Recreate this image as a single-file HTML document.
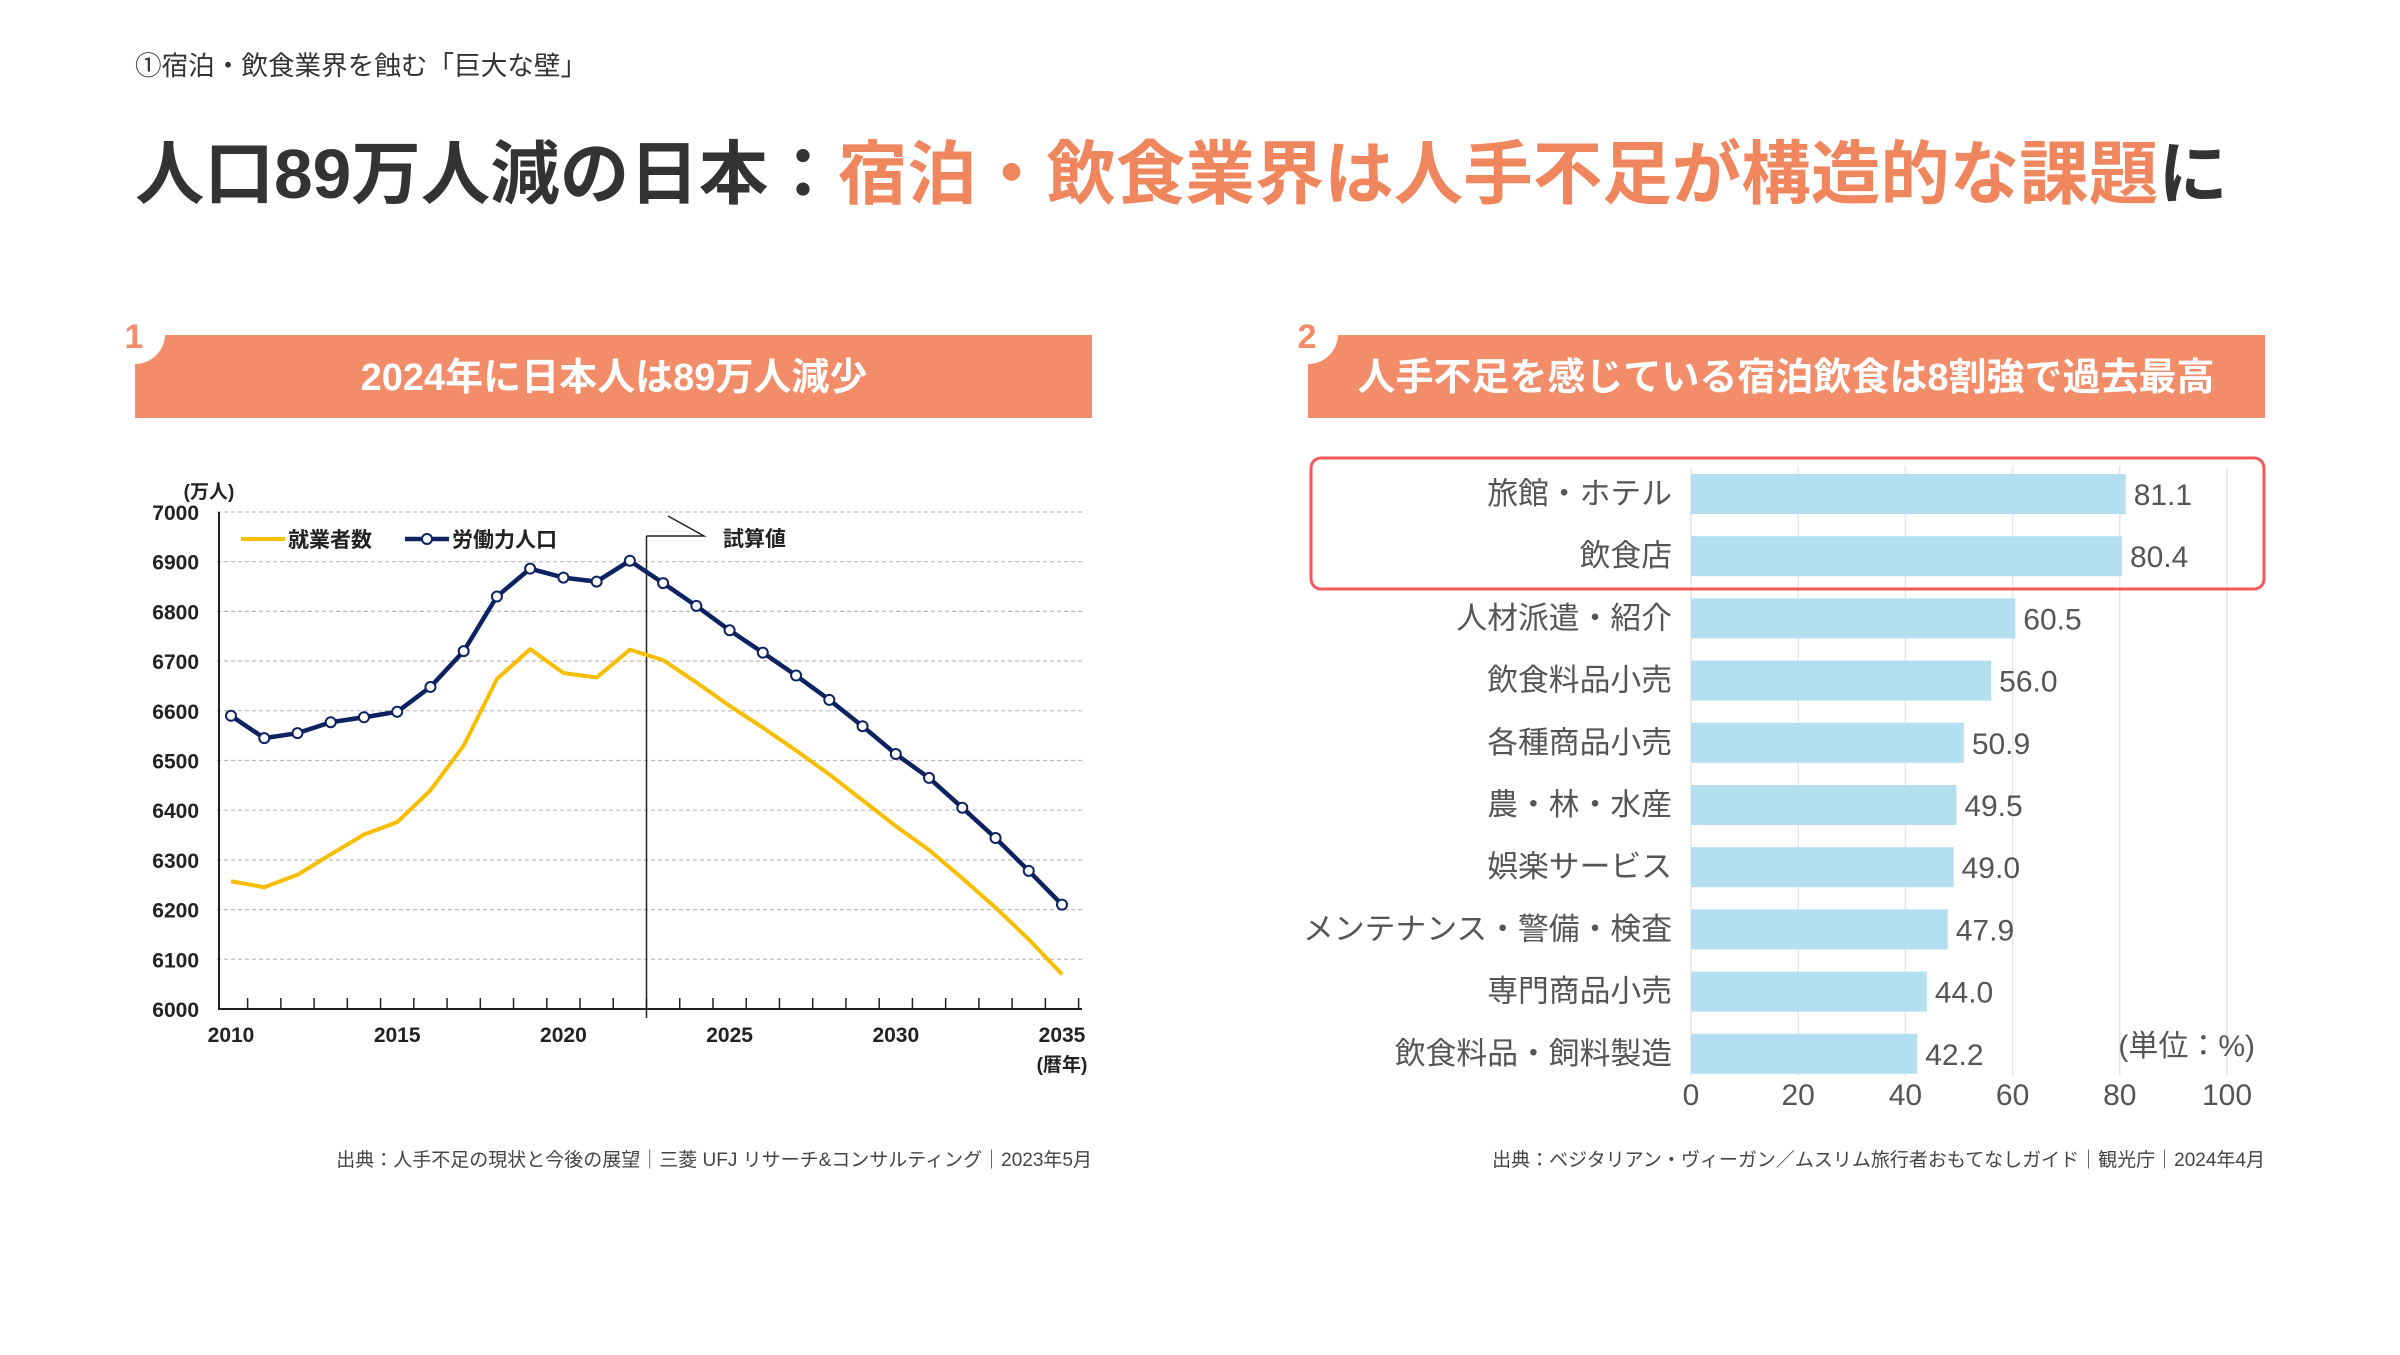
<!DOCTYPE html>
<html><head><meta charset="utf-8">
<style>
html,body{margin:0;padding:0;background:#fff;}
body{width:2400px;height:1350px;overflow:hidden;font-family:"Liberation Sans","Noto Sans CJK JP",sans-serif;}
svg text{font-family:"Liberation Sans","Noto Sans CJK JP",sans-serif;}
</style></head>
<body>
<svg id="page" width="2400" height="1350" viewBox="0 0 2400 1350">
  <text x="135" y="75" font-size="26.6" fill="#333">①宿泊・飲食業界を蝕む「巨大な壁」</text>
  <text x="135" y="198" font-size="69.5" font-weight="bold" fill="#333">人口89万人減の日本：<tspan fill="#f0865e">宿泊・飲食業界は人手不足が構造的な課題</tspan>に</text>

  <g>
    <rect x="135" y="335" width="957" height="83" fill="#f28c69"/>
    <circle cx="135" cy="334" r="30" fill="#fff"/>
    <text x="134" y="348" font-size="34" font-weight="bold" fill="#f28c69" text-anchor="middle">1</text>
    <text x="614" y="390" font-size="38" font-weight="bold" fill="#fff" text-anchor="middle">2024年に日本人は89万人減少</text>
  </g>
  <g>
    <rect x="1308" y="335" width="957" height="83" fill="#f28c69"/>
    <circle cx="1308" cy="334" r="30" fill="#fff"/>
    <text x="1307" y="348" font-size="34" font-weight="bold" fill="#f28c69" text-anchor="middle">2</text>
    <text x="1786" y="390" font-size="38" font-weight="bold" fill="#fff" text-anchor="middle">人手不足を感じている宿泊飲食は8割強で過去最高</text>
  </g>

  <g id="lineChart"></g>
  <g id="barChart"></g>

  <text x="1092" y="1166" font-size="19" fill="#444" text-anchor="end">出典：人手不足の現状と今後の展望｜三菱 UFJ リサーチ&amp;コンサルティング｜2023年5月</text>
  <text x="2265" y="1166" font-size="19" fill="#444" text-anchor="end">出典：ベジタリアン・ヴィーガン／ムスリム旅行者おもてなしガイド｜観光庁｜2024年4月</text>
</svg>
<script>
const years = [2010,2011,2012,2013,2014,2015,2016,2017,2018,2019,2020,2021,2022,2023,2024,2025,2026,2027,2028,2029,2030,2031,2032,2033,2034,2035];
const laborForce = [6590,6545,6555,6577,6587,6598,6648,6720,6830,6886,6868,6860,6902,6857,6811,6762,6717,6671,6622,6569,6513,6465,6405,6344,6278,6210];
const employed = [6257,6245,6270,6311,6351,6376,6440,6530,6664,6724,6676,6667,6723,6702,6657,6610,6566,6520,6472,6420,6368,6320,6263,6204,6140,6070];
const yTicks = [6000,6100,6200,6300,6400,6500,6600,6700,6800,6900,7000];
const xTickLabels = [2010,2015,2020,2025,2030,2035];

const barCategories = ["旅館・ホテル","飲食店","人材派遣・紹介","飲食料品小売","各種商品小売","農・林・水産","娯楽サービス","メンテナンス・警備・検査","専門商品小売","飲食料品・飼料製造"];
const barValues = [81.1,80.4,60.5,56.0,50.9,49.5,49.0,47.9,44.0,42.2];
const barTicks = [0,20,40,60,80,100];

const NS="http://www.w3.org/2000/svg";
function mk(tag, attrs, parent, txt){const e=document.createElementNS(NS,tag);for(const k in attrs)e.setAttribute(k,attrs[k]);if(txt!==undefined)e.textContent=txt;parent.appendChild(e);return e;}

// Line chart
const lc=document.getElementById('lineChart');
const xS=y=>231+(y-2010)*(1062-231)/25;
const yS=v=>1009-(v-6000)*(1009-512)/1000;
yTicks.forEach(t=>{
  if(t>6000){const g=mk('line',{x1:217,x2:1082,y1:yS(t),y2:yS(t),stroke:'#bbb','stroke-width':1.2,'stroke-dasharray':'4 3'},lc);
  }
  const tl=mk('text',{x:199,y:yS(t)+8,'font-size':21,'font-weight':'bold','text-anchor':'end',fill:'#222'},lc,String(t));
  
});
mk('line',{x1:219,x2:219,y1:512,y2:1010,stroke:'#222','stroke-width':2},lc);
mk('line',{x1:219,x2:1082,y1:1009,y2:1009,stroke:'#222','stroke-width':2},lc);
for(let y=2010.5;y<=2035.5;y+=1){mk('line',{x1:xS(y),x2:xS(y),y1:1009,y2:998,stroke:'#222','stroke-width':1.5},lc);}
xTickLabels.forEach(y=>{const t=mk('text',{x:xS(y),y:1042,'font-size':21,'font-weight':'bold','text-anchor':'middle',fill:'#222'},lc,String(y));
  });
mk('text',{x:209,y:498,'font-size':19,'font-weight':'bold','text-anchor':'middle',fill:'#222'},lc,'(万人)');
mk('text',{x:1062,y:1071,'font-size':19,'font-weight':'bold','text-anchor':'middle',fill:'#222'},lc,'(暦年)');
const dx=xS(2022.5);
mk('line',{x1:dx,x2:dx,y1:536,y2:1018,stroke:'#222','stroke-width':1.5},lc);
mk('polyline',{points:`${dx},536 704,536 668,516`,fill:'none',stroke:'#222','stroke-width':1.5},lc);
mk('text',{x:723,y:546,'font-size':21,'font-weight':'bold',fill:'#222'},lc,'試算値');
const p1=mk('polyline',{points:employed.map((v,i)=>xS(years[i])+','+yS(v)).join(' '),fill:'none',stroke:'#f7be00','stroke-width':4,'stroke-linejoin':'round'},lc);

const p2=mk('polyline',{points:laborForce.map((v,i)=>xS(years[i])+','+yS(v)).join(' '),fill:'none',stroke:'#0d2260','stroke-width':4.5,'stroke-linejoin':'round'},lc);

laborForce.forEach((v,i)=>{const c=mk('circle',{cx:xS(years[i]),cy:yS(v),r:5,fill:'#fff',stroke:'#0d2260','stroke-width':2},lc);
  });
mk('line',{x1:241,x2:285,y1:539,y2:539,stroke:'#f7be00','stroke-width':4},lc);
mk('text',{x:288,y:547,'font-size':21,'font-weight':'bold',fill:'#222'},lc,'就業者数');
mk('line',{x1:405,x2:449,y1:539,y2:539,stroke:'#0d2260','stroke-width':4.5},lc);
mk('circle',{cx:427,cy:539,r:5,fill:'#fff',stroke:'#0d2260','stroke-width':2},lc);
mk('text',{x:452,y:547,'font-size':21,'font-weight':'bold',fill:'#222'},lc,'労働力人口');

// Bar chart
const bc=document.getElementById('barChart');
const bx=v=>1691+v*(2227-1691)/100;
const by=i=>494+i*62.2;
barTicks.forEach(t=>{
  const g=mk('line',{x1:bx(t),x2:bx(t),y1:466,y2:1076,stroke:'#e6e6e6','stroke-width':1.5},bc);
  
  const tl=mk('text',{x:bx(t),y:1105,'font-size':30,'text-anchor':'middle',fill:'#555'},bc,String(t));
  
});
barCategories.forEach((c,i)=>{
  const r=mk('rect',{x:bx(0),y:by(i)-20,width:bx(barValues[i])-bx(0),height:40,fill:'#b3dff1'},bc);
  
  const l=mk('text',{x:1672,y:by(i)+10,'font-size':30.8,'text-anchor':'end',fill:'#555'},bc,c);
  
  const v=mk('text',{x:bx(barValues[i])+8,y:by(i)+11,'font-size':30,fill:'#555'},bc,barValues[i].toFixed(1));
  
});
mk('text',{x:2255,y:1056,'font-size':30,'text-anchor':'end',fill:'#555'},bc,'(単位：%)');
const hb=mk('rect',{x:1311,y:458,width:953,height:131,rx:10,fill:'none',stroke:'#f05a5a','stroke-width':3},bc);

</script>
</body></html>
